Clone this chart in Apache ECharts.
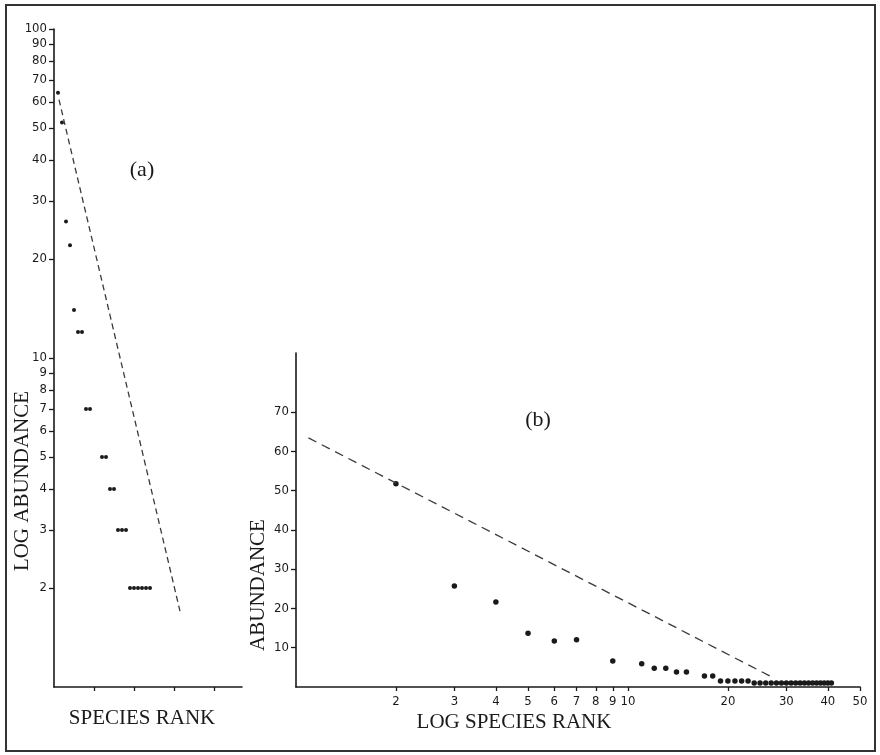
<!DOCTYPE html>
<html><head><meta charset="utf-8">
<script src="https://cdn.jsdelivr.net/npm/echarts@6/dist/echarts.min.js"></script>
<style>html,body{margin:0;background:#fff}#c{width:880px;height:755px}</style>
</head><body><div id="c"></div>
<script>
// Panel (a): species rank vs log abundance
const rankA  = [1, 2, 3, 4, 5, 6, 7, 8, 9, 12, 13, 14, 15, 16, 17, 18, 19, 20, 21, 22, 23, 24];
const abundA = [64, 52, 26, 22, 14, 12, 12, 7, 7, 5, 5, 4, 4, 3, 3, 3, 2, 2, 2, 2, 2, 2];
const lineARank = [1.25, 31.5];
const lineAAbund = [61, 1.7];
const yTicksA = [2, 3, 4, 5, 6, 7, 8, 9, 10, 20, 30, 40, 50, 60, 70, 80, 90, 100];
const xTicksA = [10, 20, 30, 40];

// Panel (b): log species rank vs abundance
const rankB  = [2, 3, 4, 5, 6, 7, 9, 11, 12, 13, 14, 15, 17, 18, 19, 20, 21, 22, 23,
                24, 25, 26, 27, 28, 29, 30, 31, 32, 33, 34, 35, 36, 37, 38, 39, 40, 41];
const abundB = [51.7, 25.7, 21.6, 13.7, 11.7, 12, 6.6, 5.9, 4.8, 4.8, 3.8, 3.8, 2.8, 2.8, 1.5, 1.5, 1.5, 1.5, 1.5,
                1, 1, 1, 1, 1, 1, 1, 1, 1, 1, 1, 1, 1, 1, 1, 1, 1, 1];
const lineBRank = [1.09, 27.2];
const lineBAbund = [63.4, 2.5];
const xTicksB = [2, 3, 4, 5, 6, 7, 8, 9, 10, 20, 30, 40, 50];
const yTicksB = [10, 20, 30, 40, 50, 60, 70];

const ink = '#1a1a1a';
const tickFont = 'DejaVu Sans Condensed, DejaVu Sans, sans-serif';
const serif = 'Liberation Serif, DejaVu Serif, serif';

const zipPts = (xs, ys) => xs.map((x, i) => [x, ys[i]]);

const chart = echarts.init(document.getElementById('c'));
chart.setOption({
  animation: false,
  backgroundColor: '#fff',
  grid: [
    { left: 54, top: 29, width: 188, height: 658 },
    { left: 296, top: 353, width: 564, height: 334 }
  ],
  xAxis: [
    { gridIndex: 0, type: 'value', min: 0, max: 47,
      axisLine: { lineStyle: { color: ink, width: 1.6 } },
      axisTick: { show: true, length: 4, customValues: xTicksA, lineStyle: { color: ink, width: 1.3 } },
      axisLabel: { show: false },
      splitLine: { show: false } },
    { gridIndex: 1, type: 'log', logBase: 10, min: 1, max: 50,
      axisLine: { onZero: false, lineStyle: { color: ink, width: 1.6 } },
      axisTick: { show: true, length: 4, customValues: xTicksB, lineStyle: { color: ink, width: 1.3 } },
      axisLabel: { show: true, customValues: xTicksB, color: ink, fontFamily: tickFont, fontSize: 13, margin: 8 },
      minorTick: { show: false },
      splitLine: { show: false } }
  ],
  yAxis: [
    { gridIndex: 0, type: 'log', logBase: 10, min: 1, max: 100,
      axisLine: { show: true, lineStyle: { color: ink, width: 1.6 } },
      axisTick: { show: true, length: 5, customValues: yTicksA, lineStyle: { color: ink, width: 1.3 } },
      axisLabel: { show: true, customValues: yTicksA, color: ink, fontFamily: tickFont, fontSize: 13, margin: 7 },
      splitLine: { show: false } },
    { gridIndex: 1, type: 'value', min: 0, max: 85,
      axisLine: { show: true, lineStyle: { color: ink, width: 1.6 } },
      axisTick: { show: true, length: 5, customValues: yTicksB, lineStyle: { color: ink, width: 1.3 } },
      axisLabel: { show: true, customValues: yTicksB, color: ink, fontFamily: tickFont, fontSize: 13, margin: 7 },
      splitLine: { show: false } }
  ],
  series: [
    { type: 'scatter', xAxisIndex: 0, yAxisIndex: 0, data: zipPts(rankA, abundA),
      symbolSize: 4, itemStyle: { color: ink, opacity: 1 } },
    { type: 'line', xAxisIndex: 0, yAxisIndex: 0, data: zipPts(lineARank, lineAAbund),
      symbol: 'none', lineStyle: { color: '#3a3a3a', width: 1.3, type: [6, 4] } },
    { type: 'scatter', xAxisIndex: 1, yAxisIndex: 1, data: zipPts(rankB, abundB),
      symbolSize: 5.5, itemStyle: { color: ink, opacity: 1 }, clip: false },
    { type: 'line', xAxisIndex: 1, yAxisIndex: 1, data: zipPts(lineBRank, lineBAbund),
      symbol: 'none', lineStyle: { color: '#3a3a3a', width: 1.3, type: [9, 6] } }
  ],
  graphic: [
    { type: 'rect', shape: { x: 6, y: 5, width: 869, height: 746 },
      style: { fill: 'none', stroke: '#333', lineWidth: 2 } },
    { type: 'text', x: 142, y: 170, style: { text: '(a)', font: '22px ' + serif, fill: ink, align: 'center', verticalAlign: 'middle' } },
    { type: 'text', x: 538, y: 420, style: { text: '(b)', font: '22px ' + serif, fill: ink, align: 'center', verticalAlign: 'middle' } },
    { type: 'text', x: 22, y: 481, rotation: Math.PI / 2,
      style: { text: 'LOG ABUNDANCE', font: '21px ' + serif, fill: ink, align: 'center', verticalAlign: 'middle' } },
    { type: 'text', x: 142, y: 718, style: { text: 'SPECIES RANK', font: '21px ' + serif, fill: ink, align: 'center', verticalAlign: 'middle' } },
    { type: 'text', x: 258, y: 585, rotation: Math.PI / 2,
      style: { text: 'ABUNDANCE', font: '21px ' + serif, fill: ink, align: 'center', verticalAlign: 'middle' } },
    { type: 'text', x: 514, y: 722, style: { text: 'LOG SPECIES RANK', font: '21px ' + serif, fill: ink, align: 'center', verticalAlign: 'middle' } }
  ]
});
</script></body></html>
